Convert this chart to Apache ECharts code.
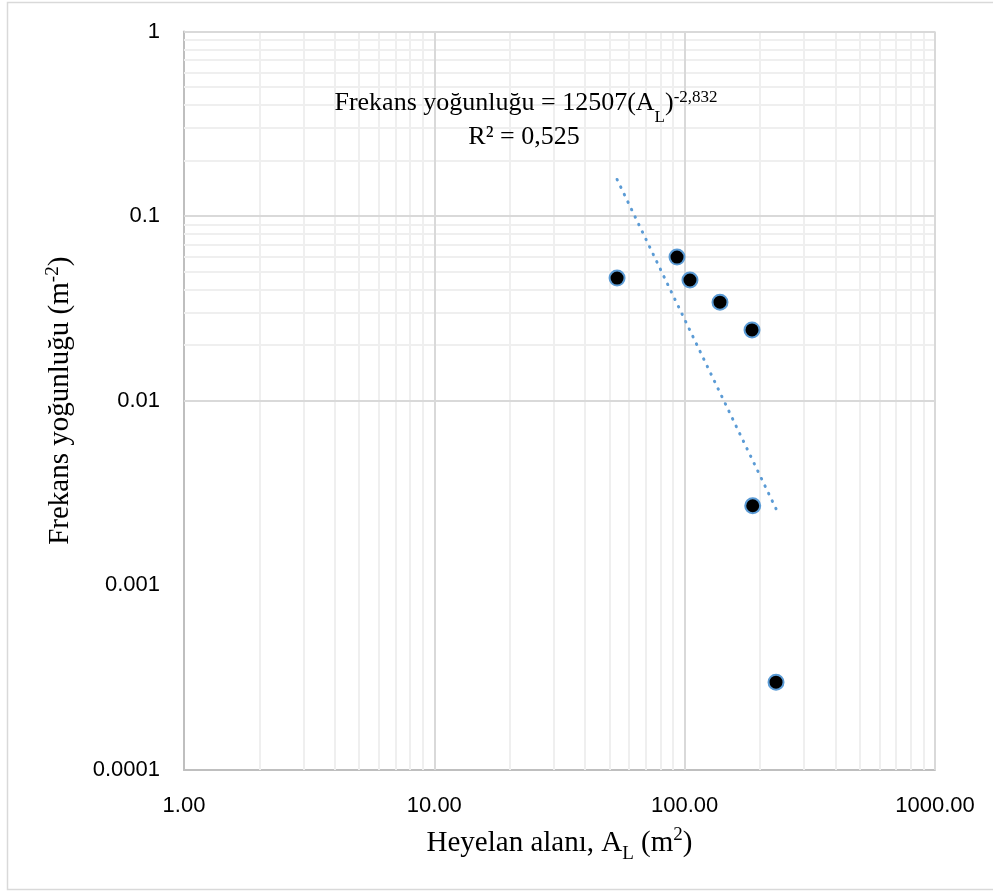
<!DOCTYPE html>
<html>
<head>
<meta charset="utf-8">
<script src="https://cdn.jsdelivr.net/npm/echarts@6/dist/echarts.min.js"></script>
<style>html,body{margin:0;padding:0;background:#fff;}#chart{width:993px;height:895px;}</style>
</head>
<body>
<div id="chart"></div>
<script>
// Data
const areaValues = [53.7, 93.2, 105.0, 138.4, 185.8, 187.0, 231.7];      // Heyelan alanı (m²)
const densityValues = [0.0462, 0.0600, 0.0451, 0.0342, 0.0242, 0.00270, 0.000299]; // Frekans yoğunluğu (m-2)
const trendX = [53.7, 231.7];
const trendY = [0.158, 0.0026];
const xTickLabels = ['1.00', '10.00', '100.00', '1000.00'];
const yTickLabels = ['1', '0.1', '0.01', '0.001', '0.0001'];
const equationText = 'Frekans yoğunluğu = 12507(A{sub|L}){sup|-2,832}';
const r2Text = 'R² = 0,525';

const points = areaValues.map((x, i) => [x, densityValues[i]]);
const trend = trendX.map((x, i) => [x, trendY[i]]);

// gridline values
const xMinor = [], xMajor = [10, 100, 1000];
for (const d of [1, 10, 100]) for (let k = 2; k <= 9; k++) xMinor.push(k * d);
const yMinor = [], yMajor = [0.001, 0.01, 0.1, 1];
for (const d of [0.0001, 0.001, 0.01, 0.1]) for (let k = 2; k <= 9; k++) yMinor.push(+(k * d).toPrecision(3));

const serif = '"Liberation Serif", "Times New Roman", serif';
const sans = '"Liberation Sans", Arial, sans-serif';

function mlSeries(name, xs, ys, color, width, z) {
  return {
    name, type: 'line', data: [], z, silent: true, animation: false,
    markLine: {
      silent: true, symbol: ['none', 'none'], animation: false, z,
      label: { show: false }, emphasis: { disabled: true },
      lineStyle: { color, width, type: 'solid' },
      data: xs.map(v => ({ xAxis: v })).concat(ys.map(v => ({ yAxis: v })))
    }
  };
}

const chart = echarts.init(document.getElementById('chart'));
chart.setOption({
  animation: false,
  backgroundColor: '#fff',
  grid: { left: 184, right: 58, top: 31.5, bottom: 125, containLabel: false },
  xAxis: {
    type: 'log', logBase: 10, min: 1, max: 1000,
    name: 'Heyelan alanı, A{sub|L} (m{sup|2})',
    nameLocation: 'middle', nameGap: 50,
    nameTextStyle: {
      fontFamily: serif, fontSize: 29, color: '#000', lineHeight: 42, verticalAlign: 'middle',
      rich: {
        sub: { fontFamily: serif, fontSize: 19, lineHeight: 16, verticalAlign: 'bottom', color: '#000' },
        sup: { fontFamily: serif, fontSize: 19, lineHeight: 20, verticalAlign: 'top', color: '#000', padding: [4, 0, 0, 0] }
      }
    },
    axisLine: { show: true, lineStyle: { color: '#bfbfbf', width: 2 } },
    axisTick: { show: false },
    splitLine: { show: false },
    axisLabel: {
      margin: 25, fontFamily: sans, fontSize: 22, color: '#000',
      formatter: v => xTickLabels[Math.round(Math.log10(v))]
    }
  },
  yAxis: {
    type: 'log', logBase: 10, min: 0.0001, max: 1,
    name: 'Frekans yoğunluğu (m{sup|-2})',
    nameLocation: 'middle', nameGap: 100,
    nameTextStyle: {
      fontFamily: serif, fontSize: 29, color: '#000', lineHeight: 42, verticalAlign: 'middle',
      rich: {
        sup: { fontFamily: serif, fontSize: 19, lineHeight: 20, verticalAlign: 'top', color: '#000', padding: [4, 0, 0, 0] }
      }
    },
    axisLine: { show: true, lineStyle: { color: '#bfbfbf', width: 2 } },
    axisTick: { show: false },
    splitLine: { show: false },
    axisLabel: {
      margin: 24, fontFamily: sans, fontSize: 22, color: '#000',
      formatter: v => yTickLabels[Math.round(-Math.log10(v))]
    }
  },
  graphic: [
    { type: 'rect', silent: true, z: -10, shape: { x: 7.5, y: 2.5, width: 1000, height: 887 },
      style: { fill: 'none', stroke: '#d9d9d9', lineWidth: 1.5 } },
    { type: 'text', x: 526, y: 103, z: 10, silent: true,
      style: {
        text: equationText, align: 'center', verticalAlign: 'middle',
        fontFamily: serif, fontSize: 26, lineHeight: 46, fill: '#000',
        rich: {
          sub: { fontFamily: serif, fontSize: 17, lineHeight: 14, verticalAlign: 'bottom', fill: '#000' },
          sup: { fontFamily: serif, fontSize: 17, lineHeight: 20, verticalAlign: 'top', fill: '#000', padding: [9, 0, 0, 0] }
        }
      } },
    { type: 'text', x: 524, y: 137, z: 10, silent: true,
      style: { text: r2Text, align: 'center', verticalAlign: 'middle',
        fontFamily: serif, fontSize: 26, fill: '#000' } }
  ],
  series: [
    mlSeries('minorGrid', xMinor, yMinor, '#efefef', 2, 1),
    mlSeries('majorGrid', xMajor, yMajor, '#d9d9d9', 2, 1.5),
    {
      name: 'trend', type: 'line', data: trend, z: 3, symbol: 'none', silent: true,
      lineStyle: { color: '#5b9bd5', width: 3, type: [0.5, 7.8], cap: 'round' }
    },
    {
      name: 'data', type: 'scatter', data: points, z: 4, symbol: 'circle', symbolSize: 15,
      itemStyle: { color: '#000', borderColor: '#5b9bd5', borderWidth: 2, opacity: 1 }
    }
  ]
});
</script>
</body>
</html>
